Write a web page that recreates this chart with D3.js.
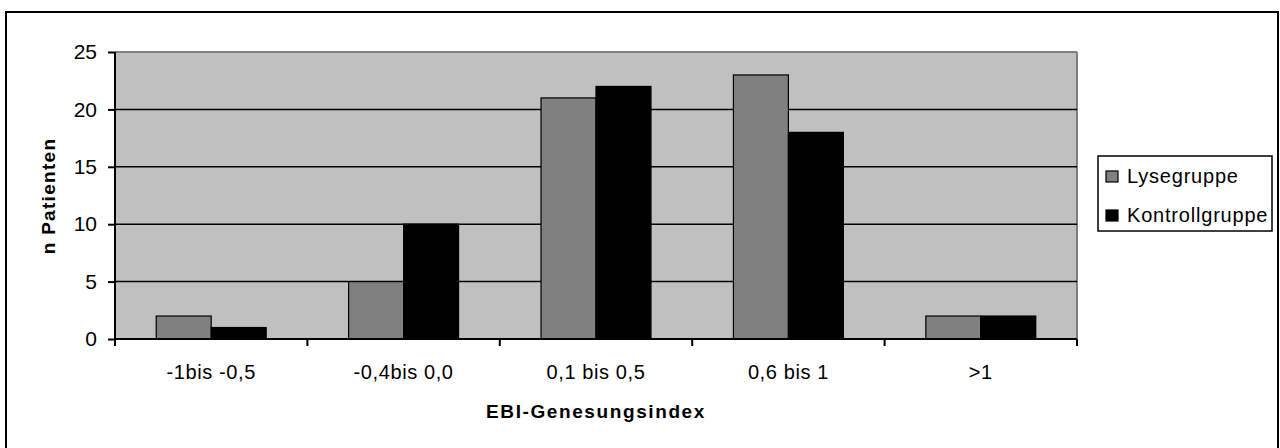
<!DOCTYPE html>
<html><head><meta charset="utf-8">
<script src="https://cdn.jsdelivr.net/npm/d3@7"></script>
<style>body{margin:0;background:#fff}svg{display:block;font-family:Arial,"Liberation Sans",sans-serif}</style>
</head><body><svg id="c" width="1280" height="448"></svg>
<script>
const categories = ["-1bis -0,5","-0,4bis 0,0","0,1 bis 0,5","0,6 bis 1",">1"];
const seriesNames = ["Lysegruppe","Kontrollgruppe"];
const lyse = [2,5,21,23,2];
const kontroll = [1,10,22,18,2];
const yTicks = [0,5,10,15,20,25];
const colors = ["#808080","#000000"];

const svg = d3.select("#c");
svg.append("rect").attr("x",6).attr("y",12).attr("width",1272).attr("height",446)
  .attr("fill","#fff").attr("stroke","#000").attr("stroke-width",2);

const L=115,R=1077,T=52,B=339;
const x = d3.scaleBand().domain(categories).range([L,R]);
const y = d3.scaleLinear().domain([0,25]).range([B,T]);
const bw = x.bandwidth()/3.5;
const gap = x.bandwidth()*0.75/3.5;

svg.append("rect").attr("x",L).attr("y",T).attr("width",R-L).attr("height",B-T).attr("fill","#C0C0C0");
svg.append("line").attr("x1",L).attr("x2",R).attr("y1",T).attr("y2",T).attr("stroke","#808080").attr("stroke-width",2);
svg.append("line").attr("x1",R).attr("x2",R).attr("y1",T).attr("y2",B).attr("stroke","#808080").attr("stroke-width",2);
svg.append("g").selectAll("line").data(yTicks.filter(d=>d>0&&d<25)).join("line")
  .attr("x1",L).attr("x2",R).attr("y1",d=>y(d)).attr("y2",d=>y(d)).attr("stroke","#000").attr("stroke-width",1.5);

const series=[lyse,kontroll];
series.forEach((vals,si)=>{
  svg.append("g").selectAll("rect").data(vals).join("rect")
    .attr("x",(d,i)=>x(categories[i])+gap+si*bw).attr("width",bw)
    .attr("y",d=>y(d)).attr("height",d=>B-y(d))
    .attr("fill",colors[si]).attr("stroke","#000").attr("stroke-width",1.2);
});

// y axis
const ya = svg.append("g").attr("transform",`translate(${L},0)`)
  .call(d3.axisLeft(y).tickValues(yTicks).tickSize(7).tickPadding(11));
ya.select(".domain").attr("stroke","#000").attr("stroke-width",2).attr("d",`M0,${T}V${B}`);
ya.selectAll(".tick line").attr("stroke","#000").attr("stroke-width",2);
ya.selectAll("text").attr("font-size",21).attr("fill","#000").attr("font-family","Arial,'Liberation Sans'");
// x axis
const xa = svg.append("g").attr("transform",`translate(0,${B})`)
  .call(d3.axisBottom(x).tickSize(0).tickPadding(26));
xa.select(".domain").attr("stroke","#000").attr("stroke-width",2).attr("d",`M${L},0H${R}`);
xa.selectAll(".tick text").attr("font-size",20).attr("letter-spacing","0.6px").attr("fill","#000").attr("font-family","Arial,'Liberation Sans'");
const bounds=[...categories.map(c=>x(c)),R];
xa.append("g").selectAll("line").data(bounds).join("line")
  .attr("x1",d=>d).attr("x2",d=>d).attr("y1",0).attr("y2",7).attr("stroke","#000").attr("stroke-width",2);

svg.append("text").attr("x",596).attr("y",418).attr("text-anchor","middle").attr("font-weight","bold")
  .attr("font-size",19).attr("letter-spacing","1.6px").text("EBI-Genesungsindex");
svg.append("text").attr("transform","translate(55,196) rotate(-90)").attr("text-anchor","middle").attr("font-weight","bold")
  .attr("font-size",19).attr("letter-spacing","1.3px").text("n Patienten");

// legend
const lg = svg.append("g");
lg.append("rect").attr("x",1098).attr("y",156).attr("width",174).attr("height",75).attr("fill","#fff").attr("stroke","#000").attr("stroke-width",1.5);
const ly=[183,222];
seriesNames.forEach((n,i)=>{
  lg.append("rect").attr("x",1106).attr("y",ly[i]-12).attr("width",12).attr("height",11).attr("fill",colors[i]).attr("stroke","#000").attr("stroke-width",1.2);
  lg.append("text").attr("x",1127).attr("y",ly[i]).attr("font-size",20).attr("letter-spacing","0.8px").text(n);
});
</script></body></html>
